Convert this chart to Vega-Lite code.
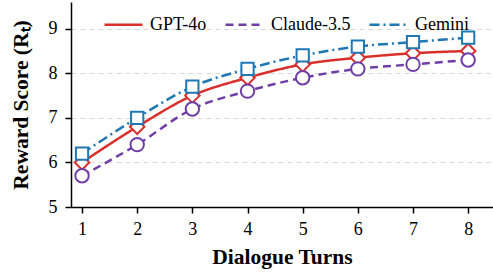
{
  "$schema": "https://vega.github.io/schema/vega-lite/v6.json",
  "width": 422,
  "height": 205,
  "autosize": {"type": "none"},
  "padding": {"left": 71, "top": 2, "right": 0, "bottom": 65},
  "background": "white",
  "config": {
    "font": "Liberation Serif",
    "view": {"stroke": null},
    "axis": {
      "labelFont": "Liberation Serif",
      "titleFont": "Liberation Serif",
      "labelFontSize": 18,
      "titleFontSize": 21.5,
      "titleFontWeight": "bold",
      "labelColor": "#000",
      "titleColor": "#000",
      "domainColor": "#000",
      "tickColor": "#000",
      "domainWidth": 1.5,
      "tickWidth": 1.5,
      "tickSize": 6
    }
  },
  "data": {
    "values": [
      {"turn": 1, "model": "GPT-4o", "score": 6.0},
      {"turn": 2, "model": "GPT-4o", "score": 6.8},
      {"turn": 3, "model": "GPT-4o", "score": 7.5},
      {"turn": 4, "model": "GPT-4o", "score": 7.9},
      {"turn": 5, "model": "GPT-4o", "score": 8.2},
      {"turn": 6, "model": "GPT-4o", "score": 8.35},
      {"turn": 7, "model": "GPT-4o", "score": 8.45},
      {"turn": 8, "model": "GPT-4o", "score": 8.5},
      {"turn": 1, "model": "Claude-3.5", "score": 5.7},
      {"turn": 2, "model": "Claude-3.5", "score": 6.4},
      {"turn": 3, "model": "Claude-3.5", "score": 7.2},
      {"turn": 4, "model": "Claude-3.5", "score": 7.6},
      {"turn": 5, "model": "Claude-3.5", "score": 7.9},
      {"turn": 6, "model": "Claude-3.5", "score": 8.1},
      {"turn": 7, "model": "Claude-3.5", "score": 8.2},
      {"turn": 8, "model": "Claude-3.5", "score": 8.3},
      {"turn": 1, "model": "Gemini", "score": 6.2},
      {"turn": 2, "model": "Gemini", "score": 7.0},
      {"turn": 3, "model": "Gemini", "score": 7.7},
      {"turn": 4, "model": "Gemini", "score": 8.1},
      {"turn": 5, "model": "Gemini", "score": 8.4},
      {"turn": 6, "model": "Gemini", "score": 8.6},
      {"turn": 7, "model": "Gemini", "score": 8.7},
      {"turn": 8, "model": "Gemini", "score": 8.8}
    ]
  },
  "encoding": {
    "x": {
      "field": "turn", "type": "quantitative",
      "scale": {"domain": [0.8, 8.45], "nice": false, "zero": false},
      "axis": {"values": [1,2,3,4,5,6,7,8], "grid": false, "title": "Dialogue Turns", "labelPadding": 7, "titlePadding": 8, "format": "d"}
    },
    "y": {
      "field": "score", "type": "quantitative",
      "scale": {"domain": [5, 9.6], "nice": false, "zero": false},
      "axis": {"values": [5,6,7,8,9], "grid": true, "gridColor": "#d9d9d9", "gridDash": [5, 4], "gridWidth": 1, "title": "Reward Score (Rₜ)", "labelPadding": 8, "titlePadding": 16, "format": "d"}
    }
  },
  "layer": [
    {
      "mark": {"type": "line", "strokeWidth": 2.5, "interpolate": "monotone"},
      "encoding": {
        "strokeDash": {
          "field": "model", "type": "nominal",
          "scale": {"domain": ["GPT-4o", "Claude-3.5", "Gemini"], "range": [[1, 0], [8, 5], [10, 4, 2, 4]]}
        },
        "color": {
          "field": "model", "type": "nominal",
          "scale": {"domain": ["GPT-4o", "Claude-3.5", "Gemini"], "range": ["#d9302c", "#6f3fa6", "#1f77b4"]},
          "legend": {
            "title": null, "orient": "none", "legendX": 32, "legendY": 2, "direction": "horizontal",
            "padding": 0,
            "symbolType": "stroke", "symbolSize": 1444, "symbolStrokeWidth": 2.5,
            "labelFont": "Liberation Serif", "labelFontSize": 18, "labelColor": "#000",
            "columnPadding": 13, "labelOffset": 6, "symbolLimit": 0
          }
        }
      }
    },
    {
      "mark": {"type": "point", "filled": false, "fill": "white", "fillOpacity": 1, "strokeWidth": 2, "opacity": 1},
      "encoding": {
        "shape": {
          "field": "model", "type": "nominal",
          "scale": {"domain": ["GPT-4o", "Claude-3.5", "Gemini"], "range": ["diamond", "circle", "square"]},
          "legend": null
        },
        "size": {
          "field": "model", "type": "nominal",
          "scale": {"domain": ["GPT-4o", "Claude-3.5", "Gemini"], "range": [210, 150, 150]},
          "legend": null
        },
        "color": {
          "field": "model", "type": "nominal",
          "scale": {"domain": ["GPT-4o", "Claude-3.5", "Gemini"], "range": ["#d9302c", "#6f3fa6", "#1f77b4"]},
          "legend": null
        }
      }
    }
  ],
  "resolve": {"legend": {"color": "independent", "shape": "independent", "size": "independent", "strokeDash": "independent"}}
}
